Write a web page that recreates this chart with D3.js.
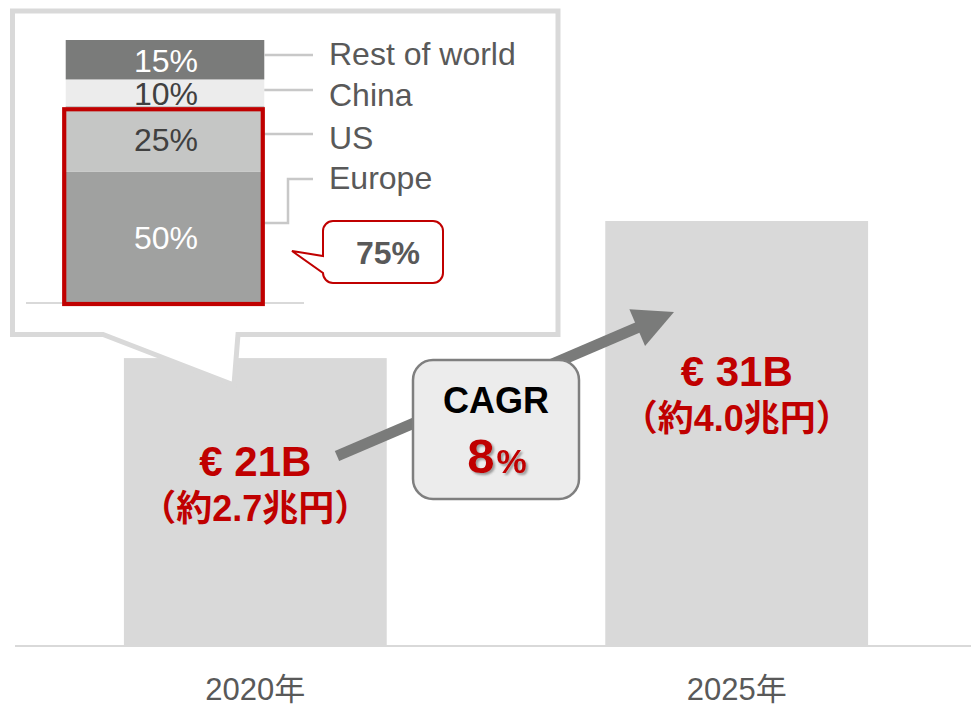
<!DOCTYPE html>
<html>
<head>
<meta charset="utf-8">
<script src="https://cdn.jsdelivr.net/npm/d3@7"></script>
<style>
  body { margin: 0; background: #fff; }
  svg { display: block; font-family: "Liberation Sans", Arial, "Noto Sans CJK JP", sans-serif; }
</style>
</head>
<body>
<svg id="chart" width="971" height="706"></svg>
<script>
// DATA
const years = ['2020年', '2025年'];
const marketSize = [21, 31];               // € billions
const marketLabel = ['€ 21B', '€ 31B'];
const yenLabel = ['（約2.7兆円）', '（約4.0兆円）'];
const regions = ['Europe', 'US', 'China', 'Rest of world'];
const regionShare = [50, 25, 10, 15];      // 2020 share, %
const highlighted = ['Europe', 'US'];

// LAYOUT (annotation positions, not data)
const labelBaseline = [476, 386];
const leaderY = { 'Europe': 179, 'US': 134, 'China': 90, 'Rest of world': 55 };
const legendTextY = { 'Europe': 178, 'US': 138, 'China': 95, 'Rest of world': 54 };
const leaderStartY = { 'Europe': 223 };
const arrowFrom = [337, 456], arrowTo = [674, 312];

const red = '#c00000';
const segColor = { 'Europe': '#a0a1a0', 'US': '#c5c6c5', 'China': '#ececec', 'Rest of world': '#7a7b7a' };
const segText = { 'Europe': '#fff', 'US': '#404040', 'China': '#404040', 'Rest of world': '#fff' };

const svg = d3.select('#chart');

// SHADOW FOR THE CAGR NUMBER
svg.append('defs').append('filter')
  .attr('id', 'shadow').attr('x', '-20%').attr('y', '-20%').attr('width', '150%').attr('height', '150%')
  .append('feDropShadow')
  .attr('dx', 2).attr('dy', 2).attr('stdDeviation', 1.2)
  .attr('flood-color', '#555').attr('flood-opacity', 0.55);

// MAIN SCALES
const x = d3.scaleBand().domain(years).range([18, 974]).paddingInner(0.454).paddingOuter(0.22);
const y = d3.scaleLinear().domain([0, d3.max(marketSize)]).range([646, 221]);

const main = years.map((yr, i) => ({ year: yr, value: marketSize[i], eur: marketLabel[i], yen: yenLabel[i], ly: labelBaseline[i] }));

// BARS
svg.append('g').selectAll('rect').data(main).enter().append('rect')
  .attr('x', d => x(d.year))
  .attr('y', d => y(d.value))
  .attr('width', x.bandwidth())
  .attr('height', d => y(0) - y(d.value))
  .attr('fill', '#d9d9d9');

// AXIS
svg.append('line')
  .attr('x1', 15).attr('x2', 971).attr('y1', y(0)).attr('y2', y(0))
  .attr('stroke', '#d9d9d9').attr('stroke-width', 2);

const xAxis = svg.append('g')
  .attr('transform', 'translate(0,' + y(0) + ')')
  .call(d3.axisBottom(x).tickSize(0).tickPadding(32));
xAxis.select('.domain').remove();
xAxis.attr('font-family', null).attr('font-size', null);
xAxis.selectAll('text').attr('font-size', 31).attr('fill', '#595959');

// GROWTH ARROW
const dx = arrowTo[0] - arrowFrom[0], dy = arrowTo[1] - arrowFrom[1];
const len = Math.hypot(dx, dy), ux = dx / len, uy = dy / len;
const headLen = 40, headHalf = 20;
const base = [arrowTo[0] - ux * headLen, arrowTo[1] - uy * headLen];
svg.append('line')
  .attr('x1', arrowFrom[0]).attr('y1', arrowFrom[1])
  .attr('x2', base[0] + ux * 2).attr('y2', base[1] + uy * 2)
  .attr('stroke', '#7a7b7a').attr('stroke-width', 11);
svg.append('path')
  .attr('d', 'M' + arrowTo + 'L' + [base[0] - uy * headHalf, base[1] + ux * headHalf] +
    'L' + [base[0] + uy * headHalf, base[1] - ux * headHalf] + 'Z')
  .attr('fill', '#7a7b7a');

// CAGR BOX
const cagr = Math.round((Math.pow(marketSize[1] / marketSize[0], 1 / 5) - 1) * 100);
svg.append('rect')
  .attr('x', 413).attr('y', 360).attr('width', 166).attr('height', 139).attr('rx', 20)
  .attr('fill', '#ececec').attr('stroke', '#7f7f7f').attr('stroke-width', 2.5);
svg.append('text')
  .attr('x', 496).attr('y', 413).attr('text-anchor', 'middle')
  .attr('font-size', 36).attr('font-weight', 'bold').attr('fill', '#000')
  .text('CAGR');
const cg = svg.append('text')
  .attr('x', 497).attr('y', 473).attr('text-anchor', 'middle')
  .attr('font-weight', 'bold').attr('fill', red).attr('filter', 'url(#shadow)');
cg.append('tspan').attr('font-size', 49).text(cagr);
cg.append('tspan').attr('font-size', 34).attr('dx', 2).text('%');

// VALUE LABELS
const vl = svg.append('g').selectAll('g').data(main).enter().append('g')
  .attr('fill', red).attr('font-weight', 'bold').attr('text-anchor', 'middle');
vl.append('text')
  .attr('x', d => x(d.year) + x.bandwidth() / 2)
  .attr('y', d => d.ly)
  .attr('font-size', 42)
  .text(d => d.eur);
vl.append('text')
  .attr('x', d => x(d.year) + x.bandwidth() / 2)
  .attr('y', d => d.ly + 45)
  .attr('font-size', 36)
  .text(d => d.yen);

// CALLOUT BOX
svg.append('path')
  .attr('d', 'M12.5,11H558V334.5H238L234,385L103,334.5H12.5Z')
  .attr('fill', '#fff').attr('stroke', '#d9d9d9').attr('stroke-width', 5)
  .attr('stroke-linejoin', 'miter');

// INNER STACKED BAR
const xs = d3.scaleBand().domain(['2020']).range([26, 304]).paddingInner(0).paddingOuter(0.2);
const ys = d3.scaleLinear().domain([0, 100]).range([303, 40]);
const row = {};
regions.forEach((r, i) => { row[r] = regionShare[i]; });
const stacked = d3.stack().keys(regions)([row]);

const inner = svg.append('g');
inner.selectAll('rect').data(stacked).enter().append('rect')
  .attr('x', xs('2020'))
  .attr('y', d => ys(d[0][1]))
  .attr('width', xs.bandwidth())
  .attr('height', d => ys(d[0][0]) - ys(d[0][1]))
  .attr('fill', d => segColor[d.key]);

inner.append('line')
  .attr('x1', 26).attr('x2', 304).attr('y1', ys(0)).attr('y2', ys(0))
  .attr('stroke', '#d9d9d9').attr('stroke-width', 2);

inner.selectAll('text.pct').data(stacked).enter().append('text')
  .attr('class', 'pct')
  .attr('x', xs('2020') + xs.bandwidth() / 2 + 1)
  .attr('y', d => (ys(d[0][0]) + ys(d[0][1])) / 2 + 1)
  .attr('dy', '0.35em').attr('text-anchor', 'middle')
  .attr('font-size', 32).attr('fill', d => segText[d.key])
  .text(d => (d[0][1] - d[0][0]) + '%');

// LEGEND LEADERS
const barRight = xs('2020') + xs.bandwidth();
const legendX1 = 313;
inner.selectAll('path.leader').data(regions).enter().append('path')
  .attr('class', 'leader')
  .attr('d', r => leaderStartY[r]
    ? 'M' + barRight + ',' + leaderStartY[r] + 'H288V' + leaderY[r] + 'H' + legendX1
    : 'M' + barRight + ',' + leaderY[r] + 'H' + legendX1)
  .attr('fill', 'none').attr('stroke', '#c8c8c8').attr('stroke-width', 2.5);
inner.selectAll('text.leg').data(regions).enter().append('text')
  .attr('class', 'leg')
  .attr('x', 329)
  .attr('y', r => legendTextY[r])
  .attr('dy', '0.35em')
  .attr('font-size', 32).attr('fill', '#595959')
  .text(r => r);

// HIGHLIGHT FRAME (Europe + US)
const hiShare = d3.sum(highlighted, r => regionShare[regions.indexOf(r)]);
inner.append('rect')
  .attr('x', xs('2020') - 1.5).attr('y', ys(hiShare) + 3.5)
  .attr('width', xs.bandwidth()).attr('height', ys(0) - ys(hiShare) - 2.5)
  .attr('fill', 'none').attr('stroke', red).attr('stroke-width', 4.2);

// 75% BUBBLE
inner.append('path')
  .attr('d', 'M333,221H433A10,10 0 0 1 443,231V273A10,10 0 0 1 433,283H333A10,10 0 0 1 323,273L292,251L323,256V231A10,10 0 0 1 333,221Z')
  .attr('fill', '#fff').attr('stroke', red).attr('stroke-width', 2);
inner.append('text')
  .attr('x', 388).attr('y', 253).attr('dy', '0.35em').attr('text-anchor', 'middle')
  .attr('font-size', 32).attr('font-weight', 'bold').attr('fill', '#595959')
  .text(hiShare + '%');
</script>
</body>
</html>
